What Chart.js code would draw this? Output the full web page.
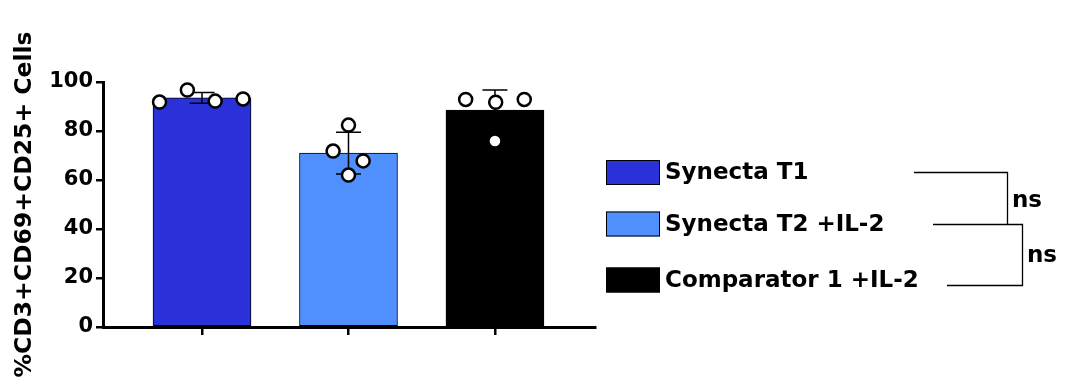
<!DOCTYPE html>
<html>
<head>
<meta charset="utf-8">
<script src="https://cdn.jsdelivr.net/npm/chart.js@4"></script>
<style>
  html, body { margin: 0; padding: 0; background: #fff; }
  #wrap { width: 1086px; height: 389px; position: relative; }
</style>
</head>
<body>
<div id="wrap"><canvas id="c"></canvas></div>
<script>
const groups     = ['Synecta T1', 'Synecta T2 +IL-2', 'Comparator 1 +IL-2'];
const barColors  = ['#2b31d8', '#4f8ffe', '#000000'];
const means      = [93.5, 71.0, 88.5];
const sds        = [2.2, 8.5, 8.2];
const replicates = [[91.8, 96.7, 92.2, 93.1], [82.4, 71.8, 67.8, 62.0], [92.9, 91.7, 92.9, 75.9]];
const jitter     = [[-0.29, -0.10, 0.09, 0.28], [0, -0.105, 0.10, 0], [-0.20, 0.005, 0.20, 0]];
const yTicks     = [0, 20, 40, 60, 80, 100];
const yTitle     = '%CD3+CD69+CD25+ Cells';
const pairs      = [[0, 1, 'ns'], [1, 2, 'ns']];

const FONT = "'DejaVu Sans', sans-serif";

// error bars: after the bars, under the dots
const errBars = {
  id: 'errBars',
  afterDatasetDraw(chart, args) {
    if (args.index !== 0) return;
    const { ctx, scales: { y } } = chart;
    ctx.save();
    ctx.strokeStyle = '#000';
    ctx.lineWidth = 1.5;
    args.meta.data.forEach((bar, i) => {
      const top = y.getPixelForValue(means[i] + sds[i]);
      const bot = y.getPixelForValue(means[i] - sds[i]);
      ctx.beginPath();
      ctx.moveTo(bar.x, top); ctx.lineTo(bar.x, bot);
      ctx.moveTo(bar.x - 12.5, top); ctx.lineTo(bar.x + 12.5, top);
      ctx.moveTo(bar.x - 12.5, bot); ctx.lineTo(bar.x + 12.5, bot);
      ctx.stroke();
    });
    ctx.restore();
  }
};

// legend on the right + significance brackets
const sideLegend = {
  id: 'sideLegend',
  afterDraw(chart) {
    const ctx = chart.ctx;
    const rowY = [172.5, 224, 280];
    ctx.save();
    ctx.font = 'bold 23px ' + FONT;
    ctx.textBaseline = 'middle';
    ctx.textAlign = 'left';
    groups.forEach((g, i) => {
      ctx.fillStyle = barColors[i];
      ctx.fillRect(606, rowY[i] - 12.5, 54, 25);
      ctx.strokeStyle = '#000';
      ctx.lineWidth = 1;
      ctx.strokeRect(606.5, rowY[i] - 12, 53, 24);
      ctx.fillStyle = '#000';
      ctx.fillText(g, 665, rowY[i] + 1);
    });

    ctx.lineWidth = 1.3;
    ctx.strokeStyle = '#000';
    // bracket 1
    ctx.beginPath();
    ctx.moveTo(914, 172.5); ctx.lineTo(1007.5, 172.5); ctx.lineTo(1007.5, 224);
    ctx.stroke();
    // bracket 2
    ctx.beginPath();
    ctx.moveTo(933, 224.5); ctx.lineTo(1022.5, 224.5); ctx.lineTo(1022.5, 285.5); ctx.lineTo(947, 285.5);
    ctx.stroke();

    ctx.textBaseline = 'alphabetic';
    ctx.fillText(pairs[0][2], 1012, 207);
    ctx.fillText(pairs[1][2], 1027, 262);
    ctx.restore();
  }
};

const dots = [];
replicates.forEach((vals, g) => vals.forEach((v, k) => dots.push({ x: g + jitter[g][k], y: v })));

new Chart(document.getElementById('c'), {
  data: {
    datasets: [
      {
        type: 'bar',
        label: 'Mean',
        data: means.map((m, i) => ({ x: i, y: m })),
        backgroundColor: barColors,
        borderColor: '#000',
        borderWidth: 1,
        borderSkipped: false,
        barThickness: 98,
        order: 2,
      },
      {
        type: 'scatter',
        label: 'Replicates',
        data: dots,
        pointRadius: 6.5,
        pointBorderWidth: 2.5,
        pointBackgroundColor: '#fff',
        pointBorderColor: '#000',
        order: 1,
      },
    ],
  },
  options: {
    responsive: true, maintainAspectRatio: false, animation: false,
    layout: { padding: { left: 0, top: 82, right: 491, bottom: 0 } },
    plugins: { legend: { display: false }, tooltip: { enabled: false } },
    scales: {
      x: {
        type: 'linear', min: -0.676, max: 2.683, offset: false,
        afterBuildTicks: s => { s.ticks = [0, 1, 2].map(v => ({ value: v })); },
        afterFit: s => { s.height = 62; },
        ticks: { callback: () => '' },
        grid: { offset: false, drawOnChartArea: false, drawTicks: true, tickLength: 8, color: '#000', lineWidth: 2.5 },
        border: { display: true, color: '#000', width: 3 },
      },
      y: {
        min: 0, max: 100,
        afterBuildTicks: s => { s.ticks = yTicks.map(v => ({ value: v })); },
        afterFit: s => { s.width = 103; },
        ticks: { color: '#000', padding: 3, font: { family: FONT, size: 21, weight: 'bold' } },
        grid: { drawOnChartArea: false, drawTicks: true, tickLength: 7, color: '#000', lineWidth: 2.5 },
        border: { display: true, color: '#000', width: 3 },
        title: {
          display: true, text: yTitle, color: '#000',
          font: { family: FONT, size: 23.5, weight: 'bold' },
          padding: { top: 11, bottom: 0 },
        },
      },
    },
  },
  plugins: [errBars, sideLegend],
});
</script>
</body>
</html>
